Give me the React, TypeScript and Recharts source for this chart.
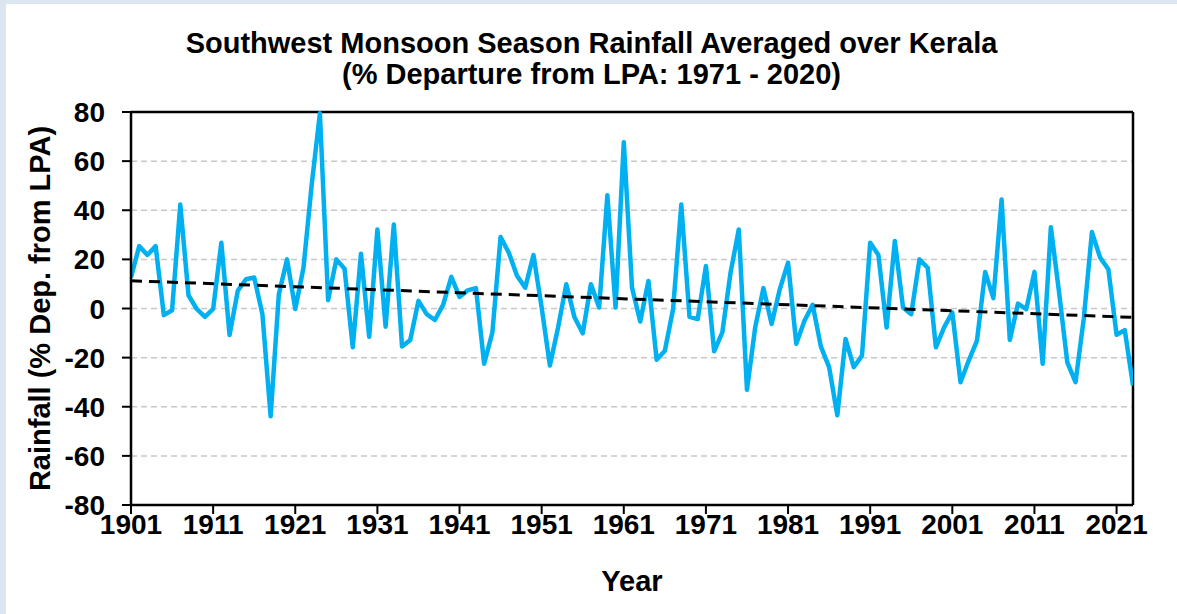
import { CartesianGrid, Label, Line, LineChart, ReferenceLine, XAxis, YAxis } from 'recharts';

const firstYear = 1901;
const rainfall = [
  12.6, 25.4, 21.8, 25.4, -2.7, -0.7, 42.3, 5.4, -0.2, -3.4,
  -0.2, 26.8, -10.8, 7.2, 11.9, 12.6, -2.3, -43.9, 5.8, 20.0,
  -0.2, 16.6, 50.4, 79.5, 3.4, 20.0, 16.2, -15.8, 22.3, -11.5,
  32.2, -7.4, 34.2, -15.5, -12.8, 3.1, -2.3, -4.7, 1.5, 12.9,
  4.7, 7.4, 8.3, -22.5, -9.7, 29.1, 22.7, 13.3, 8.5, 21.8,
  0.4, -23.2, -7.7, 9.9, -3.6, -10.1, 9.9, 0.4, 46.1, 0.4,
  67.7, 8.5, -5.3, 11.2, -20.9, -17.2, -0.3, 42.3, -3.4, -4.3,
  17.3, -17.4, -9.7, 14.6, 32.2, -33.1, -7.7, 8.3, -6.3, 7.9,
  18.7, -14.4, -5.0, 1.5, -15.5, -23.9, -43.5, -12.4, -23.9, -19.2,
  26.8, 21.8, -7.7, 27.5, 0.4, -2.3, 20.0, 16.6, -15.8, -7.7,
  -1.6, -30.0, -21.2, -13.1, 14.9, 4.2, 44.4, -12.8, 2.0, -0.3,
  14.9, -22.5, 33.1, 6.5, -21.9, -30.0, -4.3, 31.1, 20.7, 16.0,
  -10.7, -8.8, -31.3,
];
const years = rainfall.map((_, i) => firstYear + i);
const lastYear = years[years.length - 1];

// linear trend, end points
const trendYears = [1901, 2023];
const trendValues = [11.3, -3.6];

const xTicks = [1901, 1911, 1921, 1931, 1941, 1951, 1961, 1971, 1981, 1991, 2001, 2011, 2021];
const yTicks = [-80, -60, -40, -20, 0, 20, 40, 60, 80];

const data = years.map((year, i) => ({ year, value: rainfall[i] }));
const trend = trendYears.map((year, i) => ({ year, value: trendValues[i] }));

const font = '"Liberation Sans", Arial, sans-serif';

function XTick({ x, y, payload }: any) {
  return (
    <text x={x} y={y} dy="0.72em" textAnchor="middle" fontSize={28} fontWeight={700} fontFamily={font} fill="#000">
      {payload.value}
    </text>
  );
}

function YTick({ x, y, payload }: any) {
  return (
    <text x={x} y={y} dy="0.36em" textAnchor="end" fontSize={28} fontWeight={700} fontFamily={font} fill="#000">
      {payload.value}
    </text>
  );
}

function YTitle({ viewBox }: any) {
  const cx = 34;
  const cy = viewBox.y + viewBox.height / 2;
  return (
    <text
      x={cx}
      y={cy}
      transform={`rotate(-90 ${cx} ${cy})`}
      textAnchor="middle"
      dominantBaseline="central"
      fontSize={29}
      fontWeight={700}
      fontFamily={font}
      fill="#000"
    >
      Rainfall (% Dep. from LPA)
    </text>
  );
}

export default function App() {
  return (
    <div style={{ position: 'fixed', left: 0, top: 0, width: 1177, height: 614, background: '#dce6f1' }}>
      <div style={{ position: 'absolute', left: 6, top: 4, width: 1171, height: 610, background: '#fff' }}>
        <div
          style={{
            position: 'absolute',
            left: 0,
            top: 24,
            width: 1171,
            textAlign: 'center',
            fontFamily: font,
            fontWeight: 700,
            fontSize: 29,
            lineHeight: '31px',
            color: '#000',
          }}
        >
          <div>Southwest Monsoon Season Rainfall Averaged over Kerala</div>
          <div>(% Departure from LPA: 1971 - 2020)</div>
        </div>
        <LineChart width={1171} height={610} margin={{ top: 108, right: 44, bottom: 0, left: 0 }}>
          <CartesianGrid vertical={false} stroke="#c8c8c8" strokeDasharray="6 4" strokeWidth={1.5} />
          <XAxis
            dataKey="year"
            type="number"
            domain={[firstYear, lastYear]}
            ticks={xTicks}
            allowDataOverflow
            height={109}
            tickSize={9}
            tickMargin={0}
            tick={<XTick />}
            axisLine={{ stroke: '#000', strokeWidth: 2.5 }}
            tickLine={{ stroke: '#000', strokeWidth: 2 }}
            label={{ value: 'Year', position: 'insideBottom', offset: 23, style: { fontSize: 29, fontWeight: 700, fill: '#000', fontFamily: font } }}
          />
          <YAxis
            type="number"
            domain={[-80, 80]}
            ticks={yTicks}
            width={125}
            tickSize={9}
            tickMargin={17}
            tick={<YTick />}
            axisLine={{ stroke: '#000', strokeWidth: 2.5 }}
            tickLine={{ stroke: '#000', strokeWidth: 2 }}
          >
            <Label content={(p: any) => <YTitle {...p} />} />
          </YAxis>
          <ReferenceLine y={80} stroke="#000" strokeWidth={2.5} />
          <ReferenceLine x={lastYear} stroke="#000" strokeWidth={2.5} />
          <Line
            data={data}
            dataKey="value"
            type="linear"
            stroke="#00b0f0"
            strokeWidth={4.5}
            strokeLinejoin="round"
            dot={false}
            isAnimationActive={false}
          />
          <Line
            data={trend}
            dataKey="value"
            type="linear"
            stroke="#000"
            strokeWidth={3}
            strokeDasharray="11 7"
            dot={false}
            isAnimationActive={false}
          />
        </LineChart>
      </div>
    </div>
  );
}
